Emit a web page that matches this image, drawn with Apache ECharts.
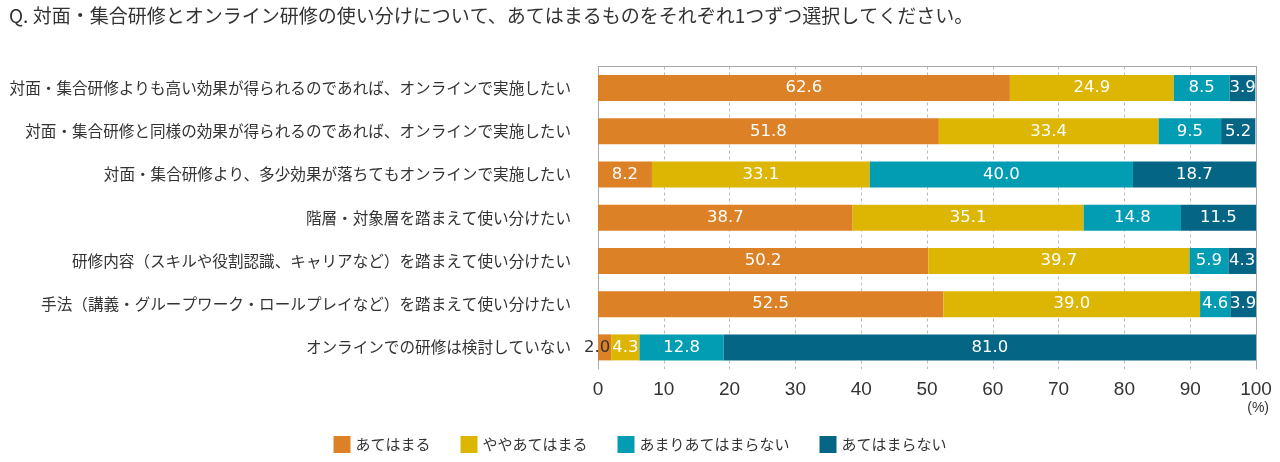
<!DOCTYPE html>
<html><head><meta charset="utf-8">
<script src="https://cdn.jsdelivr.net/npm/echarts@6/dist/echarts.min.js"></script>
<style>html,body{margin:0;padding:0;background:#fff}#c{width:1280px;height:462px}</style>
</head><body><div id="c"></div>
<script>
const title = 'Q. 対面・集合研修とオンライン研修の使い分けについて、あてはまるものをそれぞれ1つずつ選択してください。';
const categories = [
  '対面・集合研修よりも高い効果が得られるのであれば、オンラインで実施したい',
  '対面・集合研修と同様の効果が得られるのであれば、オンラインで実施したい',
  '対面・集合研修より、多少効果が落ちてもオンラインで実施したい',
  '階層・対象層を踏まえて使い分けたい',
  '研修内容（スキルや役割認識、キャリアなど）を踏まえて使い分けたい',
  '手法（講義・グループワーク・ロールプレイなど）を踏まえて使い分けたい',
  'オンラインでの研修は検討していない'
];
const seriesNames = ['あてはまる', 'ややあてはまる', 'あまりあてはまらない', 'あてはまらない'];
const atehamaru     = [62.6, 51.8, 8.2, 38.7, 50.2, 52.5, 2.0];
const yayaAtehamaru = [24.9, 33.4, 33.1, 35.1, 39.7, 39.0, 4.3];
const amari         = [8.5, 9.5, 40.0, 14.8, 5.9, 4.6, 12.8];
const atehamaranai  = [3.9, 5.2, 18.7, 11.5, 4.3, 3.9, 81.0];
const xTicks = [0,10,20,30,40,50,60,70,80,90,100];
const colors = ['#DD8127', '#DDB604', '#039DB3', '#046585'];

const values = [atehamaru, yayaAtehamaru, amari, atehamaranai];
const jpFont = '"Noto Sans CJK JP", sans-serif';

const series = values.map((vals, si) => ({
  name: seriesNames[si],
  type: 'bar',
  stack: 'total',
  barWidth: 26,
  itemStyle: { color: colors[si] },
  label: {
    show: true, position: 'inside', color: '#fff',
    fontFamily: 'DejaVu Sans', fontSize: 16.5,
    formatter: p => p.value.toFixed(1)
  },
  data: vals.map(v => v < 3 ? {
    value: v,
    label: { position: 'insideLeft', offset: [-19, 0], color: '#333' }
  } : v)
}));

const chart = echarts.init(document.getElementById('c'));
chart.setOption({
  animation: false,
  backgroundColor: '#fff',
  title: {
    text: title, left: 4, top: 1,
    textStyle: { fontFamily: jpFont, fontSize: 19, fontWeight: 'normal', color: '#333' }
  },
  legend: {
    data: seriesNames, left: 'center', top: 431,
    itemWidth: 17, itemHeight: 17, itemGap: 30,
    icon: 'rect',
    textStyle: { fontFamily: jpFont, fontSize: 15, color: '#333' }
  },
  grid: { left: 598, right: 24, top: 66.5, bottom: 93, containLabel: false, outerBoundsMode: 'none' },
  xAxis: [{
    type: 'value', min: 0, max: 100, interval: 10,
    axisLine: { show: false }, axisTick: { show: false },
    axisLabel: { color: '#333', fontFamily: 'Liberation Sans', fontSize: 19, margin: 11,
      formatter: v => xTicks.includes(v) ? String(v) : '' },
    splitLine: { show: true, lineStyle: { color: '#bbb', type: [3, 3] } }
  }, {
    type: 'value', min: 0, max: 100, position: 'top',
    axisLine: { show: true, onZero: false, lineStyle: { color: '#aaa' } },
    axisTick: { show: false }, axisLabel: { show: false }, splitLine: { show: false }
  }],
  yAxis: [{
    type: 'category', data: categories, inverse: true,
    axisLine: { show: true, lineStyle: { color: '#aaa' } },
    axisTick: { show: false },
    axisLabel: { color: '#333', fontFamily: jpFont, fontSize: 15.6, margin: 27 }
  }, {
    type: 'category', data: categories, inverse: true, position: 'right',
    axisLine: { show: true, onZero: false, lineStyle: { color: '#aaa' } },
    axisTick: { show: false }, axisLabel: { show: false }
  }],
  graphic: [{
    type: 'text', right: 11, top: 401,
    style: { text: '(%)', fontFamily: 'Liberation Sans', fontSize: 14, fill: '#333' }
  }],
  series
});
</script></body></html>
